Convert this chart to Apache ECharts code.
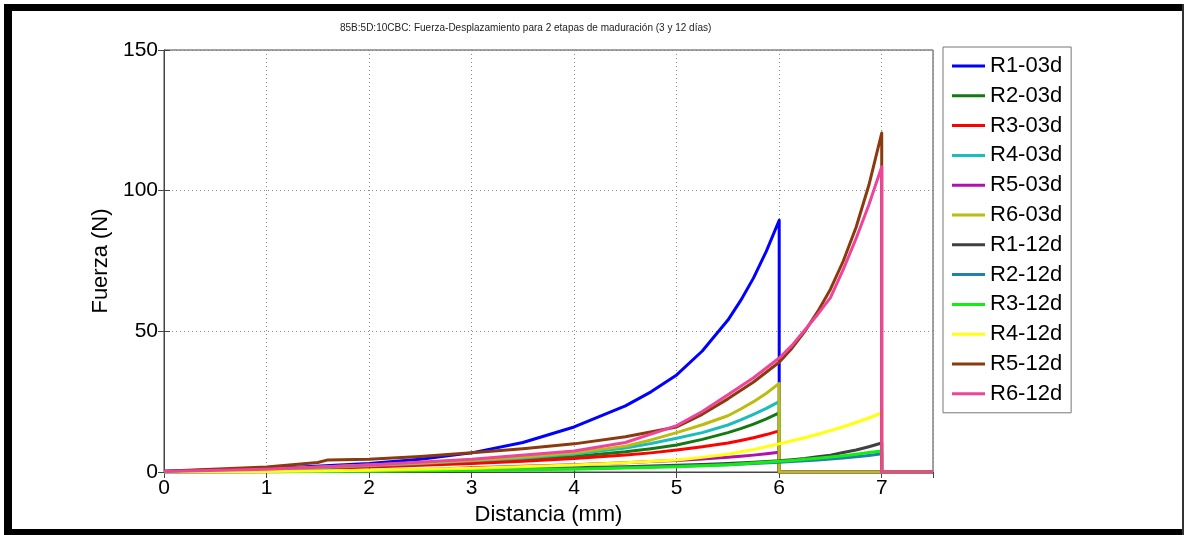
<!doctype html>
<html lang="es">
<head>
    <meta charset="UTF-8">
    <title>Fuerza-Desplazamiento</title>
    <style>
        * {
            margin: 0;
            padding: 0;
        }

        body {
            background: #ffffff;
        }

        #chart {
            width: 1188px;
            height: 535px;
        }
    </style>
</head>
<body>
<div id="chart"></div>
<script src="https://cdn.jsdelivr.net/npm/echarts@6/dist/echarts.min.js"></script>
<script type="application/javascript">
    // distancias (mm)
    const x03 = [0, 1, 2, 2.5, 3, 3.5, 4, 4.5, 4.75, 5, 5.25, 5.5, 5.625, 5.75, 5.875, 6, 6, 7.5];
    const x12 = [0, 1, 2, 3, 4, 4.5, 5, 5.25, 5.5, 5.75, 6, 6.125, 6.25, 6.375, 6.5, 6.625, 6.75, 6.875, 7, 7, 7.5];
    const xR5_12 = [0, 1, 1.5, 1.6, 2, 2.5, 3, 3.5, 4, 4.5, 5, 5.25, 5.5, 5.75, 6, 6.125, 6.25, 6.375, 6.5, 6.625, 6.75, 6.875, 7, 7, 7.5];

    // fuerza (N)
    const R1_03 = [0.3, 1.2, 3, 4.5, 6.8, 10.5, 16, 23.5, 28.5, 34.5, 43, 54, 61, 69, 78.5, 89.5, 0, 0];
    const R2_03 = [0.2, 0.7, 2, 2.7, 3.5, 4.4, 5.5, 7.2, 8.3, 9.6, 11.6, 14, 15.4, 17, 18.9, 21, 0, 0];
    const R3_03 = [0.2, 0.7, 1.8, 2.4, 3, 3.8, 4.8, 6, 6.8, 7.8, 9, 10.3, 11.2, 12.2, 13.3, 14.6, 0, 0];
    const R4_03 = [0.2, 0.8, 2.2, 3, 4, 5, 6.4, 8.5, 10.1, 12, 14, 16.7, 18.5, 20.5, 22.6, 25, 0, 0];
    const R5_03 = [0, 0.1, 0.3, 0.8, 1.5, 2, 2.6, 3.3, 3.7, 4.1, 4.6, 5.2, 5.6, 6, 6.5, 7, 0, 0];
    const R6_03 = [0.2, 1, 2.5, 3.2, 4.2, 5.3, 6.8, 9.2, 11.4, 14, 16.8, 20, 22.4, 25, 28, 31.5, 0, 0];
    const R1_12 = [0, 0.2, 0.5, 1, 1.5, 1.9, 2.4, 2.7, 3, 3.5, 4, 4.4, 4.8, 5.4, 6, 6.9, 7.8, 9, 10.3, 0, 0];
    const R2_12 = [0, 0.1, 0.4, 0.8, 1.2, 1.6, 2, 2.3, 2.6, 3, 3.5, 3.7, 4, 4.3, 4.6, 5, 5.4, 5.9, 6.5, 0, 0];
    const R3_12 = [0, 0.1, 0.3, 0.6, 1, 1.4, 1.9, 2.2, 2.6, 3.2, 3.8, 4.1, 4.5, 4.9, 5.3, 5.8, 6.3, 6.9, 7.5, 0, 0];
    const R4_12 = [0, 0.2, 0.6, 1.3, 2.5, 3.3, 4.3, 5.2, 6.3, 8, 10, 11.1, 12.2, 13.4, 14.7, 16.1, 17.6, 19.2, 21, 0, 0];
    const R5_12 = [0.3, 1.8, 3.4, 4.3, 4.5, 5.5, 6.8, 8.3, 10, 12.5, 16, 20.5, 26, 32, 39, 44, 50, 57, 65, 75, 87, 102, 120.5, 0, 0];
    const R6_12 = [0.2, 1, 2.5, 4.5, 7.5, 10.5, 16.5, 21.5, 27.5, 33.5, 40.5, 45, 50.5, 56, 62, 72, 83, 95, 108.5, 0, 0];

    const names = ['R1-03d', 'R2-03d', 'R3-03d', 'R4-03d', 'R5-03d', 'R6-03d',
        'R1-12d', 'R2-12d', 'R3-12d', 'R4-12d', 'R5-12d', 'R6-12d'];
    const xs = [x03, x03, x03, x03, x03, x03, x12, x12, x12, x12, xR5_12, x12];
    const ys = [R1_03, R2_03, R3_03, R4_03, R5_03, R6_03, R1_12, R2_12, R3_12, R4_12, R5_12, R6_12];
    const colors = ['#0000ff', '#137a13', '#ff0000', '#1cbcbc', '#b010b0', '#bcbc10',
        '#404040', '#2080b0', '#10f010', '#ffff10', '#8b3a0e', '#f0449a'];

    const xTicks = [0, 1, 2, 3, 4, 5, 6, 7];
    const yTicks = [0, 50, 100, 150];

    const font = 'Liberation Sans, Arial, sans-serif';

    const series = names.map(function (name, i) {
        return {
            name: name,
            type: 'line',
            showSymbol: false,
            symbol: 'none',
            data: xs[i].map(function (x, k) {
                return [x, ys[i][k]];
            }),
            lineStyle: {width: 3, color: colors[i], join: 'round'},
            itemStyle: {color: colors[i]}
        };
    });

    const dotted = {color: '#888', type: [1, 3], width: 1};

    var chartDom = document.getElementById('chart');
    var myChart = echarts.init(chartDom);
    const option = {
        animation: false,
        backgroundColor: '#ffffff',
        title: {
            text: '85B:5D:10CBC: Fuerza-Desplazamiento para 2 etapas de maduración (3 y 12 días)',
            left: 340,
            top: 23,
            padding: 0,
            textStyle: {fontSize: 10, fontWeight: 'normal', color: '#222', fontFamily: font}
        },
        grid: {
            left: 164,
            right: 255,
            top: 50,
            bottom: 63,
            show: true,
            borderColor: '#444',
            borderWidth: 1,
            backgroundColor: '#ffffff'
        },
        legend: {
            orient: 'vertical',
            left: 943,
            top: 47,
            padding: [8, 9, 8, 9],
            itemGap: 7.8,
            itemWidth: 33,
            itemHeight: 3,
            icon: 'rect',
            borderColor: '#777',
            borderWidth: 1,
            backgroundColor: '#fff',
            data: names,
            textStyle: {fontSize: 22, lineHeight: 22, color: '#000', fontFamily: font}
        },
        xAxis: [{
            type: 'value',
            min: 0,
            max: 7.5,
            interval: 1,
            name: 'Distancia (mm)',
            nameLocation: 'middle',
            nameGap: 32,
            nameTextStyle: {fontSize: 22, color: '#000', fontFamily: font},
            axisLine: {show: true, onZero: false, lineStyle: {color: '#444'}},
            axisTick: {show: true, inside: true, length: 6, lineStyle: {color: '#444'}},
            axisLabel: {
                fontSize: 21, color: '#000', margin: 6, fontFamily: font, showMaxLabel: false,
                formatter: function (v) {
                    return xTicks.indexOf(v) >= 0 ? String(v) : '';
                }
            },
            splitLine: {show: true, lineStyle: dotted}
        }, {
            type: 'value',
            position: 'top',
            min: 0,
            max: 7.5,
            interval: 1,
            axisLine: {show: true, lineStyle: {color: '#444'}},
            axisTick: {show: true, inside: true, length: 6, lineStyle: {color: '#444'}},
            axisLabel: {show: false},
            splitLine: {show: false}
        }],
        yAxis: [{
            type: 'value',
            min: 0,
            max: 150,
            interval: 50,
            name: 'Fuerza (N)',
            nameLocation: 'middle',
            nameGap: 49,
            nameTextStyle: {fontSize: 22, color: '#000', fontFamily: font},
            axisLine: {show: true, onZero: false, lineStyle: {color: '#444'}},
            axisTick: {show: true, inside: true, length: 6, lineStyle: {color: '#444'}},
            axisLabel: {
                fontSize: 21, color: '#000', margin: 6, fontFamily: font,
                formatter: function (v) {
                    return yTicks.indexOf(v) >= 0 ? String(v) : '';
                }
            },
            splitLine: {show: true, lineStyle: dotted}
        }, {
            type: 'value',
            position: 'right',
            min: 0,
            max: 150,
            interval: 50,
            axisLine: {show: true, lineStyle: {color: '#444'}},
            axisTick: {show: true, inside: true, length: 6, lineStyle: {color: '#444'}},
            axisLabel: {show: false},
            splitLine: {show: false}
        }],
        // marco negro alrededor de la figura
        graphic: [
            {type: 'rect', shape: {x: 4, y: 4, width: 1180, height: 7}, style: {fill: '#000'}},
            {type: 'rect', shape: {x: 4, y: 4, width: 8, height: 531}, style: {fill: '#000'}},
            {type: 'rect', shape: {x: 4, y: 529, width: 1180, height: 6}, style: {fill: '#000'}},
            {type: 'rect', shape: {x: 1182, y: 4, width: 2, height: 531}, style: {fill: '#333'}}
        ],
        series: series
    };
    option && myChart.setOption(option);
</script>
</body>
</html>
